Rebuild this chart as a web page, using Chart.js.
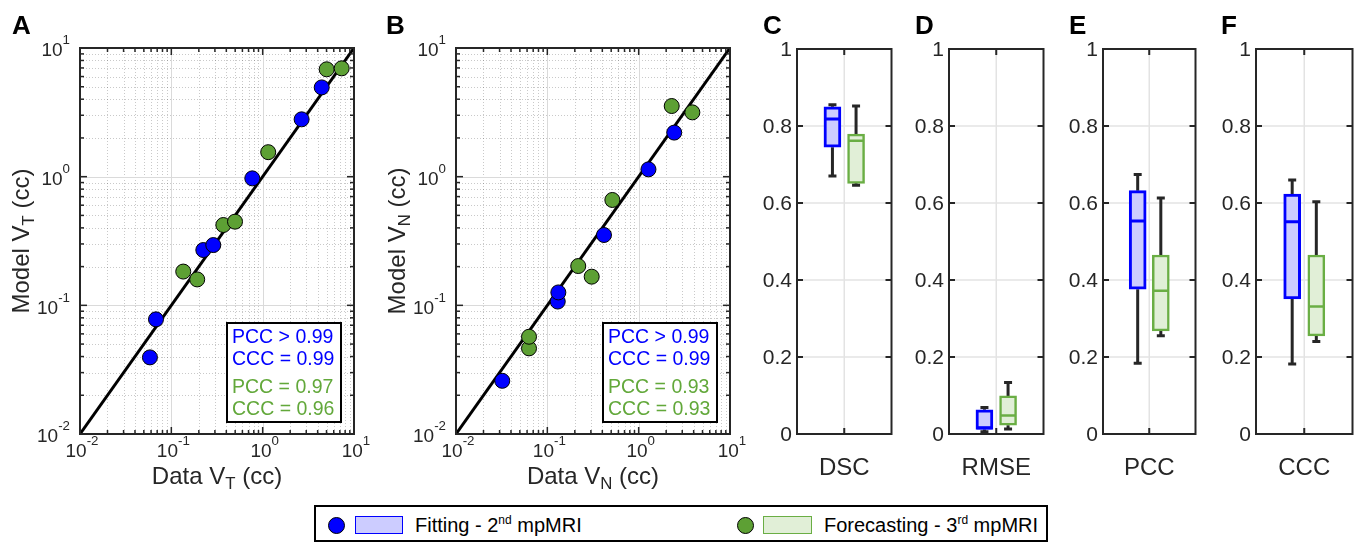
<!DOCTYPE html>
<html>
<head>
<meta charset="utf-8">
<title>Tumour and necrosis volumes: model vs data</title>
<script src="https://cdn.jsdelivr.net/npm/chart.js@4.4.1/dist/chart.umd.min.js"></script>
<style>
  html, body { margin: 0; padding: 0; background: #fff; }
  body { position: relative; width: 1363px; height: 542px; overflow: hidden;
         font-family: "Liberation Sans", Arial, sans-serif; }
  canvas { position: absolute; top: 0; }
  .tag { position: absolute; top: 12px; font: bold 26px "Liberation Sans", Arial, sans-serif;
         line-height: 1; color: #000; }
  #legend { position: absolute; left: 314px; top: 505px; width: 734px; height: 37px;
            box-sizing: border-box; border: 2px solid #000; background: #fff; }
  #legend .dot { position: absolute; top: 9.5px; width: 17px; height: 17px; box-sizing: border-box;
                 border: 1.5px solid #000; border-radius: 50%; }
  #legend .swatch { position: absolute; top: 9px; height: 18px; box-sizing: border-box; border: 1.5px solid; }
  #legend .txt { position: absolute; top: 7px; font-size: 20px; line-height: 22px; color: #000; white-space: nowrap; }
  #legend sup { font-size: 12px; vertical-align: 0; position: relative; top: -8px; }
</style>
</head>
<body>
<canvas id="panelA" width="372" height="500" style="left:0px"></canvas>
<canvas id="panelB" width="372" height="500" style="left:376px"></canvas>
<canvas id="panelC" width="152" height="500" style="left:750px"></canvas>
<canvas id="panelD" width="152" height="500" style="left:902px"></canvas>
<canvas id="panelE" width="150" height="500" style="left:1056px"></canvas>
<canvas id="panelF" width="154" height="500" style="left:1209px"></canvas>

<div class="tag" style="left:12px">A</div>
<div class="tag" style="left:386px">B</div>
<div class="tag" style="left:763px">C</div>
<div class="tag" style="left:915px">D</div>
<div class="tag" style="left:1069px">E</div>
<div class="tag" style="left:1221px">F</div>

<div id="legend">
  <div class="dot" style="left:11.5px;background:#0000ff"></div>
  <div class="swatch" style="left:39px;width:48px;background:#ccccff;border-color:#0000ff"></div>
  <div class="txt" style="left:99px">Fitting - 2<sup>nd</sup> mpMRI</div>
  <div class="dot" style="left:420.5px;background:#5da034"></div>
  <div class="swatch" style="left:447px;width:49px;background:#e1efd7;border-color:#6aae44"></div>
  <div class="txt" style="left:508px">Forecasting - 3<sup>rd</sup> mpMRI</div>
</div>

<script>
const BLUE = '#0000ff';
const GREEN = '#5da034';
const GREEN_TEXT = '#62a83a';
const GREEN_EDGE = '#6aae44';
const BLUE_FILL = '#ccccff';
const GREEN_FILL = '#e1efd7';
const INK = '#262626';
const FONT = '"Liberation Sans", Arial, sans-serif';

// log-log panels (cc)
const logTicks = [0.01, 0.1, 1, 10];

const fitDataVT = [0.0583, 0.0679, 0.224, 0.288, 0.770, 2.67, 4.43];
const fitModelVT = [0.0394, 0.0778, 0.269, 0.294, 0.970, 2.79, 4.94];
const foreDataVT = [0.135, 0.192, 0.371, 0.498, 1.15, 5.02, 7.33];
const foreModelVT = [0.183, 0.159, 0.421, 0.447, 1.55, 6.83, 6.95];
const statsVT = ['PCC > 0.99', 'CCC = 0.99', 'PCC = 0.97', 'CCC = 0.96'];

const fitDataVN = [0.0321, 0.130, 0.132, 0.417, 1.28, 2.45];
const fitModelVN = [0.0259, 0.107, 0.126, 0.352, 1.14, 2.20];
const foreDataVN = [0.063, 0.063, 0.218, 0.306, 0.515, 2.30, 3.87];
const foreModelVN = [0.0463, 0.057, 0.202, 0.167, 0.659, 3.54, 3.16];
const statsVN = ['PCC > 0.99', 'CCC = 0.99', 'PCC = 0.93', 'CCC = 0.93'];

// box panels, each row: [min, q1, median, q3, max]
const boxTicks = [0, 0.2, 0.4, 0.6, 0.8, 1];
const fitDSC = [0.670, 0.745, 0.818, 0.850, 0.855];
const foreDSC = [0.646, 0.651, 0.762, 0.779, 0.852];
const fitRMSE = [0.006, 0.012, 0.016, 0.063, 0.069];
const foreRMSE = [0.013, 0.023, 0.048, 0.099, 0.134];
const fitPCC = [0.184, 0.376, 0.553, 0.632, 0.674];
const forePCC = [0.255, 0.268, 0.372, 0.465, 0.613];
const fitCCC = [0.182, 0.351, 0.551, 0.623, 0.660];
const foreCCC = [0.240, 0.255, 0.331, 0.465, 0.603];

const pts = (xs, ys) => xs.map((x, i) => ({ x, y: ys[i] }));

// text with sub/superscript runs: [[text, ''|'sub'|'sup'], ...]
function runWidth(ctx, parts, size) {
  let w = 0;
  for (const [t, m] of parts) {
    ctx.font = `${m ? size * 0.7 : size}px ${FONT}`;
    w += ctx.measureText(t).width;
  }
  return w;
}

function drawRun(ctx, parts, x, y, size, align) {
  const w = runWidth(ctx, parts, size);
  let cx = align === 'center' ? x - w / 2 : align === 'right' ? x - w : x;
  ctx.textAlign = 'left';
  ctx.textBaseline = 'middle';
  for (const [t, m] of parts) {
    const fs = m ? size * 0.7 : size;
    ctx.font = `${fs}px ${FONT}`;
    const dy = m === 'sub' ? size * 0.3 : m === 'sup' ? -size * 0.55 : 0;
    ctx.fillText(t, cx, y + dy);
    cx += ctx.measureText(t).width;
  }
}

function vline(ctx, px, y0, y1) { ctx.beginPath(); ctx.moveTo(px, y0); ctx.lineTo(px, y1); ctx.stroke(); }
function hline(ctx, py, x0, x1) { ctx.beginPath(); ctx.moveTo(x0, py); ctx.lineTo(x1, py); ctx.stroke(); }
const snap = (p) => Math.round(p) + 0.5;

// grid, box frame, inward ticks, tick labels and axis titles
function axesFrame(cfg) {
  return {
    id: 'axesFrame',
    beforeDatasetsDraw(chart) {
      const { ctx, chartArea: a, scales: { x, y } } = chart;
      ctx.save();
      if (cfg.kind === 'log') {
        const minor = [];
        cfg.ticks.slice(0, -1).forEach((d) => { for (let k = 2; k <= 9; k++) minor.push(k * d); });
        ctx.lineWidth = 1;
        ctx.strokeStyle = 'rgba(38,38,38,0.25)';
        ctx.setLineDash([1, 2]);
        minor.forEach((v) => {
          vline(ctx, snap(x.getPixelForValue(v)), a.top, a.bottom);
          hline(ctx, snap(y.getPixelForValue(v)), a.left, a.right);
        });
        ctx.setLineDash([]);
        ctx.strokeStyle = '#dadada';
        cfg.ticks.forEach((v) => {
          vline(ctx, snap(x.getPixelForValue(v)), a.top, a.bottom);
          hline(ctx, snap(y.getPixelForValue(v)), a.left, a.right);
        });
      } else {
        ctx.lineWidth = 1.5;
        ctx.strokeStyle = '#e3e3e3';
        cfg.ticks.forEach((v) => hline(ctx, y.getPixelForValue(v), a.left, a.right));
        vline(ctx, x.getPixelForValue(1), a.top, a.bottom);
      }
      ctx.restore();
    },
    afterDatasetsDraw(chart) {
      const { ctx, chartArea: a, scales: { x, y } } = chart;
      ctx.save();
      ctx.strokeStyle = INK;
      ctx.fillStyle = INK;

      if (cfg.kind === 'log') {
        const minor = [];
        cfg.ticks.slice(0, -1).forEach((d) => { for (let k = 2; k <= 9; k++) minor.push(k * d); });
        ctx.lineWidth = 1.5;
        const tick = (v, len) => {
          const px = x.getPixelForValue(v), py = y.getPixelForValue(v);
          vline(ctx, px, a.bottom, a.bottom - len); vline(ctx, px, a.top, a.top + len);
          hline(ctx, py, a.left, a.left + len); hline(ctx, py, a.right, a.right - len);
        };
        minor.forEach((v) => tick(v, 4));
        cfg.ticks.forEach((v) => tick(v, 7));

        cfg.ticks.forEach((v) => {
          const lab = [['10', ''], [String(Math.round(Math.log10(v))), 'sup']];
          drawRun(ctx, lab, x.getPixelForValue(v) + 2, a.bottom + 18, 19, 'center');
          drawRun(ctx, lab, a.left - 10, y.getPixelForValue(v) + 3, 19, 'right');
        });

        drawRun(ctx, cfg.xTitle, (a.left + a.right) / 2, a.bottom + 43, 24, 'center');
        ctx.save();
        ctx.translate(a.left - 58, (a.top + a.bottom) / 2);
        ctx.rotate(-Math.PI / 2);
        drawRun(ctx, cfg.yTitle, 0, 0, 24, 'center');
        ctx.restore();

        // correlation summary box
        const bw = 114, bh = 99;
        const bx = a.right - 13 - bw, by = a.bottom - 12 - bh;
        ctx.fillStyle = '#fff';
        ctx.fillRect(bx, by, bw, bh);
        ctx.lineWidth = 2;
        ctx.strokeStyle = '#000';
        ctx.strokeRect(bx, by, bw, bh);
        const rows = [14, 35.6, 64, 85.6];
        ctx.font = `19.5px ${FONT}`;
        ctx.textAlign = 'left';
        ctx.textBaseline = 'middle';
        cfg.stats.forEach((s, i) => {
          ctx.fillStyle = i < 2 ? BLUE : GREEN_TEXT;
          ctx.fillText(s, bx + 5, by + rows[i] + 1);
        });
      } else {
        ctx.lineWidth = 2;
        cfg.ticks.forEach((v) => {
          const py = y.getPixelForValue(v);
          hline(ctx, py, a.left, a.left + 6);
          hline(ctx, py, a.right, a.right - 6);
        });
        const cx = x.getPixelForValue(1);
        vline(ctx, cx, a.bottom, a.bottom - 6);
        vline(ctx, cx, a.top, a.top + 6);

        ctx.font = `21px ${FONT}`;
        ctx.textAlign = 'right';
        ctx.textBaseline = 'middle';
        cfg.ticks.forEach((v) => {
          const s = v === 0 || v === 1 ? String(v) : v.toFixed(1);
          ctx.fillText(s, a.left - 5, y.getPixelForValue(v) + 1);
        });
        ctx.font = `24px ${FONT}`;
        ctx.textAlign = 'center';
        ctx.fillText(cfg.name, (a.left + a.right) / 2, a.bottom + 34);
      }

      ctx.lineWidth = 2;
      ctx.strokeStyle = INK;
      ctx.strokeRect(a.left, a.top, a.right - a.left, a.bottom - a.top);
      ctx.restore();
    }
  };
}

function fixedAxes(left, bottom) {
  return {
    x: { afterFit: (s) => { s.height = bottom; } },
    y: { afterFit: (s) => { s.width = left; } }
  };
}

function logPanel(id, fitX, fitY, foreX, foreY, stats, sym, pad) {
  const lo = logTicks[0], hi = logTicks[logTicks.length - 1];
  const fit = fixedAxes(80, 66);
  const hidden = { grid: { display: false }, border: { display: false }, ticks: { display: false } };
  new Chart(document.getElementById(id), {
    type: 'scatter',
    data: {
      datasets: [
        { data: pts(foreX, foreY), backgroundColor: GREEN, borderColor: '#000', borderWidth: 1,
          pointRadius: 7.5, order: 1 },
        { data: pts(fitX, fitY), backgroundColor: BLUE, borderColor: '#000', borderWidth: 1,
          pointRadius: 7.5, order: 2 },
        { type: 'line', data: [{ x: lo, y: lo }, { x: hi, y: hi }], borderColor: '#000',
          borderWidth: 3, pointRadius: 0, order: 3 }
      ]
    },
    options: {
      responsive: false,
      animation: false,
      events: [],
      layout: { padding: { left: 0, top: 48, right: pad, bottom: 0 } },
      plugins: { legend: { display: false }, tooltip: { enabled: false } },
      scales: {
        x: { type: 'logarithmic', min: lo, max: hi, ...hidden, afterFit: fit.x.afterFit },
        y: { type: 'logarithmic', min: lo, max: hi, ...hidden, afterFit: fit.y.afterFit }
      }
    },
    plugins: [axesFrame({
      kind: 'log', ticks: logTicks, stats,
      xTitle: [['Data V', ''], [sym, 'sub'], [' (cc)', '']],
      yTitle: [['Model V', ''], [sym, 'sub'], [' (cc)', '']]
    })]
  });
}

function boxPanel(id, name, fitS, foreS, pad) {
  const xs = [0.75, 1.25];
  const groups = [fitS, foreS];
  const whiskers = [];
  const caps = [];
  groups.forEach((s, i) => {
    whiskers.push({ x: xs[i], y: s[4] }, { x: xs[i], y: s[3] }, { x: xs[i], y: null },
                  { x: xs[i], y: s[1] }, { x: xs[i], y: s[0] }, { x: xs[i], y: null });
    caps.push({ x: xs[i], y: s[0] }, { x: xs[i], y: s[4] });
  });
  const fit = fixedAxes(47, 66);
  const hidden = { grid: { display: false }, border: { display: false }, ticks: { display: false } };
  new Chart(document.getElementById(id), {
    type: 'scatter',
    data: {
      datasets: [
        { data: groups.map((s, i) => ({ x: xs[i], y: s[2] })), pointStyle: 'line', pointRadius: 7.5,
          pointBorderColor: [BLUE, GREEN_EDGE], pointBorderWidth: [3, 2.5], order: 0 },
        { data: caps, pointStyle: 'line', pointRadius: 4, pointBorderColor: INK,
          pointBorderWidth: 3, order: 1 },
        { type: 'bar', data: groups.map((s, i) => ({ x: xs[i], y: [s[1], s[3]] })),
          backgroundColor: [BLUE_FILL, GREEN_FILL], borderColor: [BLUE, GREEN_EDGE],
          borderWidth: [3, 2.5], borderSkipped: false, barThickness: 17, grouped: false, order: 2 },
        { type: 'line', data: whiskers, borderColor: INK, borderWidth: 3, pointRadius: 0,
          spanGaps: false, order: 3 }
      ]
    },
    options: {
      responsive: false,
      animation: false,
      events: [],
      layout: { padding: { left: 0, top: 49, right: pad, bottom: 0 } },
      plugins: { legend: { display: false }, tooltip: { enabled: false } },
      scales: {
        x: { type: 'linear', min: 0, max: 2, offset: false, ...hidden, afterFit: fit.x.afterFit },
        y: { type: 'linear', min: 0, max: 1, ...hidden, afterFit: fit.y.afterFit }
      }
    },
    plugins: [axesFrame({ kind: 'box', ticks: boxTicks, name })]
  });
}

logPanel('panelA', fitDataVT, fitModelVT, foreDataVT, foreModelVT, statsVT, 'T', 18);
logPanel('panelB', fitDataVN, fitModelVN, foreDataVN, foreModelVN, statsVN, 'N', 18);
boxPanel('panelC', 'DSC', fitDSC, foreDSC, 8);
boxPanel('panelD', 'RMSE', fitRMSE, foreRMSE, 8);
boxPanel('panelE', 'PCC', fitPCC, forePCC, 5);
boxPanel('panelF', 'CCC', fitCCC, foreCCC, 10);
</script>
</body>
</html>
